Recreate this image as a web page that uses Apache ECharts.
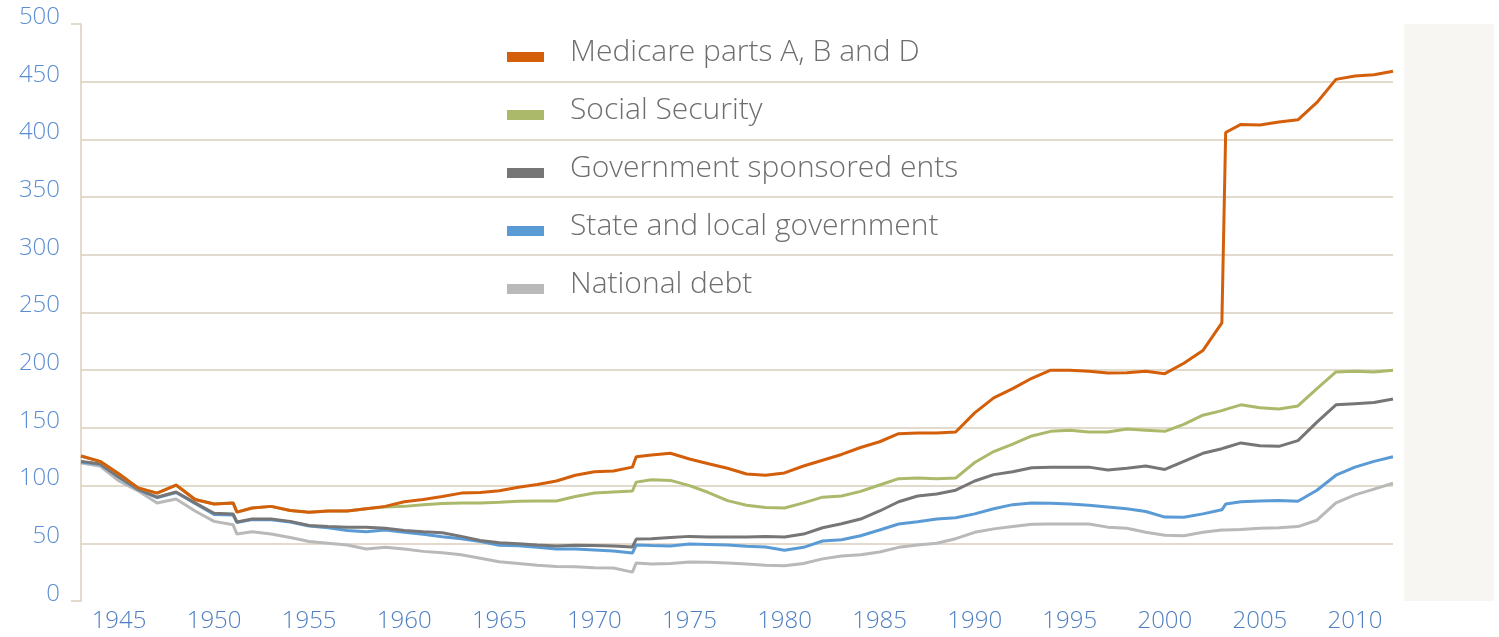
<!DOCTYPE html>
<html>
<head>
<meta charset="utf-8">
<title>Unfunded liabilities</title>
<script src="https://cdn.jsdelivr.net/npm/echarts@6/dist/echarts.min.js"></script>
<style>
  html, body { margin: 0; padding: 0; background: #fff; }
  #chart { width: 1499px; height: 637px; }
</style>
</head>
<body>
<div id="chart"></div>
<script>
// x positions (years), a few extra points where the series jump
const years = [
  1943, 1944, 1945, 1946, 1947, 1948, 1949, 1950, 1951, 1951.2,
  1952, 1953, 1954, 1955, 1956, 1957, 1958, 1959, 1960, 1961,
  1962, 1963, 1964, 1965, 1966, 1967, 1968, 1969, 1970, 1971,
  1972, 1972.2, 1973, 1974, 1975, 1976, 1977, 1978, 1979, 1980,
  1981, 1982, 1983, 1984, 1985, 1986, 1987, 1988, 1989, 1990,
  1991, 1992, 1993, 1994, 1995, 1996, 1997, 1998, 1999, 2000,
  2001, 2002, 2003, 2003.2, 2004, 2005, 2006, 2007, 2008, 2009,
  2010, 2011, 2012
];

const medicare = [
  125.7, 121, 110, 98, 93.5, 100.5, 88, 84, 85, 77,
  80.6, 82, 78.5, 77, 78, 78, 80, 82, 86, 88,
  90.5, 93.5, 94, 95.5, 98.5, 101, 104, 109, 112, 112.7,
  116, 125, 126.5, 128, 123, 119, 115, 110, 109, 111,
  117, 122, 127, 133, 138, 145, 145.6, 145.6, 146.5, 163,
  176, 184, 193, 200, 200, 199, 197.5, 197.7, 199, 197,
  206, 217, 241, 406, 413, 412.5, 415, 417, 432, 452,
  455, 456, 459
];

const socialSecurity = [
  125.7, 121, 110, 98, 93.5, 100.5, 88, 84, 85, 77,
  80.6, 82, 78.5, 77, 78, 78, 80, 81.5, 82, 83.5,
  84.5, 85, 85, 85.5, 86.5, 86.7, 86.7, 90.5, 93.6, 94.5,
  95.3, 103, 105, 104.5, 100, 94, 87, 83, 81, 80.6,
  85, 90, 91, 95, 100.5, 106, 106.5, 106, 106.5, 120,
  129.5, 136, 143, 147, 148, 146.5, 146.5, 149, 148, 147,
  153, 161, 165, 166, 170, 167.5, 166.4, 169, 184, 198.5,
  199, 198.5, 200
];

const gse = [
  121, 119, 107.5, 97, 90, 94.5, 85, 76, 75.4, 68.5,
  71, 71, 69, 65.5, 64.5, 64, 64, 63, 61, 60,
  59.2, 56, 52.5, 50.5, 49.7, 48.5, 47.7, 48.3, 48, 47.7,
  46.8, 53.7, 54, 55, 56, 55.5, 55.5, 55.5, 56, 55.5,
  58, 63.5, 67, 71, 78, 86, 91, 92.7, 96, 104,
  109.5, 112, 115.5, 116, 116, 116, 113.5, 115, 117, 114,
  121, 128, 132, 133, 137, 134.5, 134, 139, 155, 170,
  171, 172, 175
];

const stateLocal = [
  120.5, 118.5, 107, 96.5, 89.5, 94, 84.5, 75, 74.5, 68,
  70.5, 70.5, 68.5, 65, 63.5, 61, 60, 61.5, 59.5, 57.8,
  55.7, 54, 51.5, 48.3, 47.9, 46.5, 45, 45, 44.3, 43.3,
  41.6, 48.5, 48, 47.7, 49.3, 49, 48.5, 47.5, 46.8, 44,
  46.5, 52, 53, 56.5, 61.5, 66.7, 68.7, 71, 72.2, 75.5,
  80, 83.5, 85, 84.7, 84, 83, 81.5, 80, 77.5, 72.7,
  72.5, 75.5, 79, 84, 86, 86.7, 87, 86.5, 96, 109,
  116, 121, 125
];

const nationalDebt = [
  119.6, 117, 104, 95.5, 85, 88.4, 78, 69, 66, 58,
  60, 58, 55, 51.5, 50, 48.5, 45, 46.5, 45, 43,
  41.8, 40, 37, 34, 32.5, 31, 30, 29.7, 28.8, 28.6,
  25, 33, 32, 32.5, 33.8, 33.5, 33, 32, 31, 30.5,
  32.5, 36.5, 39, 40, 42.5, 46.5, 48.5, 50, 54, 59.5,
  62.5, 64.5, 66.5, 66.7, 66.7, 66.7, 64, 63, 59.5, 57,
  56.5, 59.5, 61.5, 61.5, 62, 63, 63.5, 64.5, 70, 85,
  92, 97, 102
];

const yearTicks = [1945, 1950, 1955, 1960, 1965, 1970, 1975, 1980, 1985, 1990, 1995, 2000, 2005, 2010];

const names = [
  'Medicare parts A, B and D',
  'Social Security',
  'Government sponsored ents',
  'State and local government',
  'National debt'
];
const values = [medicare, socialSecurity, gse, stateLocal, nationalDebt];
const colors = ['#d45f0b', '#abb96b', '#767676', '#5b9bd5', '#b9b9b9'];

const font = '"Open Sans", Lato, sans-serif';
const axisBeige = '#d9cfbd';

// legend swatch: a 37x10 bar sitting low in its box (tiny dot on top sets the box), so the text reads a bit higher
const swatch = 'path://M0,0L37,0L37,10L0,10Z M0,-10L0.01,-10L0.01,-9.99Z';

// last series ends up on top, so add them bottom-up
const series = [];
for (let i = names.length - 1; i >= 0; i--) {
  series.push({
    name: names[i],
    type: 'line',
    showSymbol: false,
    data: years.map((y, k) => [y, values[i][k]]),
    lineStyle: { width: 3, color: colors[i] },
    itemStyle: { color: colors[i] }
  });
}

const chart = echarts.init(document.getElementById('chart'));
chart.setOption({
  animation: false,
  backgroundColor: '#fff',
  graphic: [{
    type: 'rect',
    shape: { x: 1404, y: 24, width: 90, height: 577 },
    style: { fill: '#f7f6f3' },
    z: -1
  }],
  grid: { left: 81, right: 106, top: 24, bottom: 36 },
  legend: {
    data: names,
    orient: 'vertical',
    left: 507,
    top: 37,
    padding: 0,
    icon: swatch,
    itemWidth: 37,
    itemHeight: 20,
    itemGap: 28,
    textStyle: {
      fontFamily: font,
      fontSize: 30,
      fontWeight: 300,
      color: '#6e6e6e',
      lineHeight: 30,
      padding: [0, 0, 0, 21]
    }
  },
  xAxis: {
    type: 'value',
    min: 1943,
    max: 2012,
    axisLine: { show: false },
    axisTick: { show: false },
    splitLine: { show: false },
    axisLabel: {
      customValues: yearTicks,
      formatter: v => String(v),
      fontFamily: font,
      fontSize: 24,
      fontWeight: 300,
      color: '#4f7fc2',
      margin: 8
    }
  },
  yAxis: [{
    type: 'value',
    min: 0,
    max: 500,
    interval: 50,
    axisLine: { show: true, lineStyle: { color: axisBeige, width: 1.5 } },
    axisTick: { show: false },
    splitLine: {
      show: true,
      showMinLine: false,
      showMaxLine: false,
      lineStyle: { color: '#e2dbcd', width: 2 }
    },
    axisLabel: {
      fontFamily: font,
      fontSize: 24,
      fontWeight: 300,
      color: '#5b8dd3',
      margin: 21,
      // labels sit a little above their gridlines
      verticalAlign: 'bottom',
      lineHeight: 14
    }
  }, {
    // only the two short end ticks at 0 and 500
    type: 'value',
    position: 'left',
    min: 0,
    max: 500,
    axisLine: { show: false },
    axisLabel: { show: false },
    splitLine: { show: false },
    axisTick: { show: true, customValues: [0, 500], length: 10, lineStyle: { color: axisBeige, width: 1.5 } }
  }],
  series: series
});
</script>
</body>
</html>
